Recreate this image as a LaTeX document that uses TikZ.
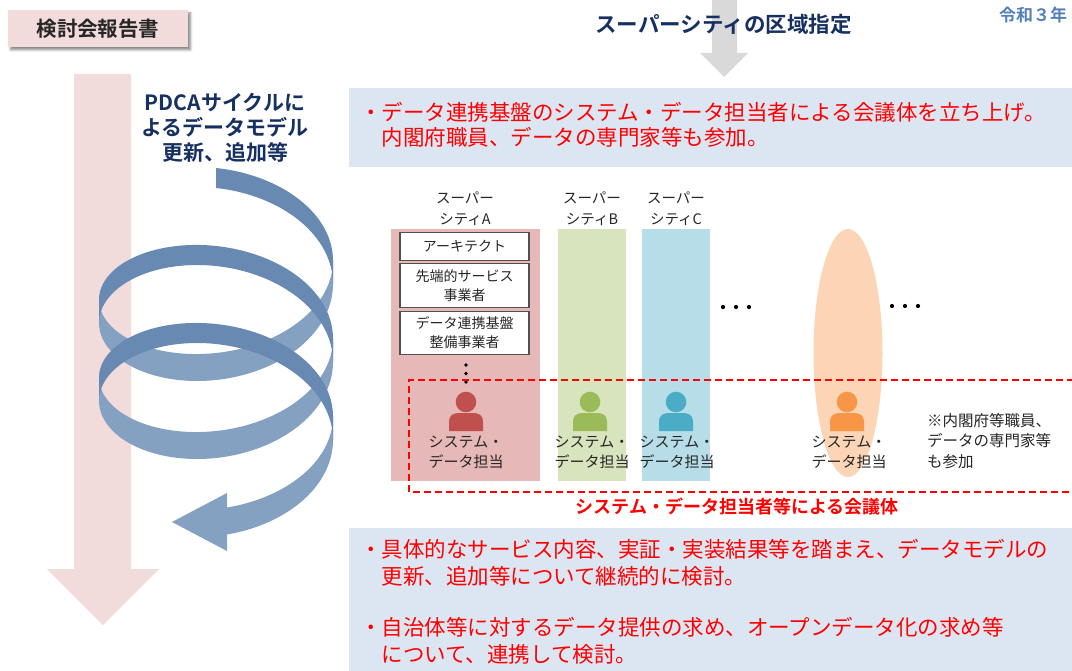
\documentclass[tikz,border=0pt]{standalone}
\usepackage{fontspec}
\setmainfont{Noto Sans CJK JP}[BoldFont={Noto Sans CJK JP Bold}]
\usetikzlibrary{shadows.blur}

\definecolor{softpink}{RGB}{242,220,219}
\definecolor{navytext}{RGB}{23,48,98}
\definecolor{yeartext}{RGB}{84,128,186}
\definecolor{panelblue}{RGB}{220,230,242}
\definecolor{alertred}{RGB}{255,0,0}
\definecolor{cityA}{RGB}{230,185,184}
\definecolor{cityB}{RGB}{215,228,189}
\definecolor{cityC}{RGB}{183,222,232}
\definecolor{ovalfill}{RGB}{251,213,181}
\definecolor{iconA}{RGB}{192,80,77}
\definecolor{iconB}{RGB}{155,187,89}
\definecolor{iconC}{RGB}{75,172,198}
\definecolor{iconD}{RGB}{247,150,70}
\definecolor{ribbonfront}{RGB}{104,137,178}
\definecolor{ribbonback}{RGB}{133,161,194}
\definecolor{arrowgray}{RGB}{217,217,217}
\definecolor{darktext}{RGB}{38,38,38}
\definecolor{boxline}{RGB}{80,80,80}

% one band of the helical ribbon between two angles (degrees)
\newcommand\ribbonband[3]{%
  \fill[#3] plot[domain=#1:#2,samples=60,smooth,variable=\t]
      ({216+117*sin(\t)},{241+\t/360*78-73*cos(\t)})
    -- plot[domain=#2:#1,samples=60,smooth,variable=\t]
      ({216+117*sin(\t)},{241+\t/360*78-73*cos(\t)+23.5-3.5*cos(\t)})
    -- cycle;}

\begin{document}
\begin{tikzpicture}[x=1pt,y=-1pt,
  every node/.style={inner sep=0pt,outer sep=0pt},
  titlebox/.style={fill=softpink,minimum width=180pt,minimum height=37pt,
    font=\bfseries\fontsize{20.5}{24}\selectfont,text=darktext,
    blur shadow={shadow xshift=2.5pt,shadow yshift=-3pt,shadow opacity=45,shadow blur steps=6}},
  headline/.style={font=\bfseries\fontsize{21.5}{25}\selectfont,text=navytext},
  redline/.style={anchor=west,text=alertred,font=\fontsize{21.5}{26}\selectfont},
  citylabel/.style={align=center,text=darktext,font=\fontsize{14.5}{21}\selectfont},
  rolebox/.style={draw=boxline,line width=1.3pt,fill=white,minimum width=129pt,
    align=center,text=darktext,font=\fontsize{14}{19}\selectfont},
  stafflabel/.style={align=center,text=darktext,font=\fontsize{15}{19.5}\selectfont},
  tinydot/.style={circle,fill=black,minimum size=4.2pt},
  councilline/.style={alertred,line width=2pt,dash pattern=on 7pt off 4pt},
  pics/person/.style={code={
    \fill (0,0) circle (10.3);
    \fill (-17,29) -- (-17,19) .. controls (-17,13) and (-12,11) .. (-7,11)
      -- (7,11) .. controls (12,11) and (17,13) .. (17,19) -- (17,29) -- cycle;
  }}]

\useasboundingbox (0,0) rectangle (1072,671);
\clip (0,0) rectangle (1072,671);

% ---------- left side: report and PDCA spiral ----------
\fill[softpink] (74,74) -- (131,74) -- (131,569) -- (159,569) -- (103,625)
  -- (47,569) -- (74,569) -- cycle;

\node[titlebox] (report) at (98,28.5) {検討会報告書};

\node[headline,align=center,font=\bfseries\fontsize{21}{25}\selectfont] (pdca) at (225,128)
  {PDCAサイクルに\\よるデータモデル\\更新、追加等};

% back half of every turn first, front half on top
\ribbonband{90}{270}{ribbonback}
\ribbonband{450}{630}{ribbonback}
\ribbonband{810}{895}{ribbonback}
\fill[ribbonback] (227,493) -- (172,522) -- (227,551) -- cycle;
\ribbonband{0}{90}{ribbonfront}
\ribbonband{270}{450}{ribbonfront}
\ribbonband{630}{810}{ribbonfront}

% ---------- right side ----------
\fill[arrowgray] (712,0) -- (737,0) -- (737,53) -- (748,53) -- (724,77)
  -- (700,53) -- (712,53) -- cycle;
\node[headline] (designation) at (723.5,24) {スーパーシティの区域指定};
\node[anchor=west,text=yeartext,font=\bfseries\fontsize{17}{20}\selectfont] (year) at (999,15) {令和３年};

% upper panel
\fill[panelblue] (349,88) rectangle (1072,167);
\node[redline] (setup1) at (360,112) {・データ連携基盤のシステム・データ担当者による会議体を立ち上げ。};
\node[redline] (setup2) at (381.5,137) {内閣府職員、データの専門家等も参加。};

% city columns
\fill[cityA] (391,229) rectangle (540,481);
\fill[cityB] (558,229) rectangle (626,481);
\fill[cityC] (642,229) rectangle (710,481);
\fill[ovalfill] (848,353) ellipse [x radius=34.5, y radius=124];

\node[citylabel] (labelA) at (465,208.5) {スーパー\\シティA};
\node[citylabel] (labelB) at (592,208.5) {スーパー\\シティB};
\node[citylabel] (labelC) at (676,208.5) {スーパー\\シティC};

\node[rolebox,minimum height=28pt] (architect) at (464.5,246.5) {アーキテクト};
\node[rolebox,minimum height=44pt] (provider) at (464.5,285.5) {先端的サービス\\事業者};
\node[rolebox,minimum height=43pt] (platform) at (464.5,333) {データ連携基盤\\整備事業者};

\node[tinydot,minimum size=3.6pt] (vd1) at (466,365) {};
\node[tinydot,minimum size=3.6pt] (vd2) at (466,373.5) {};
\node[tinydot,minimum size=3.6pt] (vd3) at (466,382) {};

\node[tinydot] (hd1) at (723,307) {};
\node[tinydot] (hd2) at (736,307) {};
\node[tinydot] (hd3) at (749,307) {};
\node[tinydot] (hd4) at (892,306) {};
\node[tinydot] (hd5) at (905,306) {};
\node[tinydot] (hd6) at (918,306) {};

% council boundary
\draw[councilline] (1085,380) -- (409,380) -- (409,492) -- (1085,492);

% staff members
\pic[fill=iconA] at (466,402) {person};
\pic[fill=iconB] at (590,402) {person};
\pic[fill=iconC] at (676,402) {person};
\pic[fill=iconD] at (847,402) {person};

\node[stafflabel] (staffA) at (466,452.5) {システム・\\データ担当};
\node[stafflabel] (staffB) at (592,452.5) {システム・\\データ担当};
\node[stafflabel] (staffC) at (677,452.5) {システム・\\データ担当};
\node[stafflabel] (staffD) at (849,452.5) {システム・\\データ担当};

\node[anchor=west,align=left,text=darktext,font=\fontsize{15.5}{20.5}\selectfont] (note) at (927,441)
  {※内閣府等職員、\\データの専門家等\\も参加};

\node[text=alertred,font=\bfseries\fontsize{18}{22}\selectfont] (council) at (737,507)
  {システム・データ担当者等による会議体};

% lower panel
\fill[panelblue] (349,528) rectangle (1072,671);
\node[redline] (review1) at (360,549) {・具体的なサービス内容、実証・実装結果等を踏まえ、データモデルの};
\node[redline] (review2) at (381.5,576) {更新、追加等について継続的に検討。};
\node[redline] (review3) at (360,627) {・自治体等に対するデータ提供の求め、オープンデータ化の求め等};
\node[redline] (review4) at (381.5,654) {について、連携して検討。};

\end{tikzpicture}
\end{document}
